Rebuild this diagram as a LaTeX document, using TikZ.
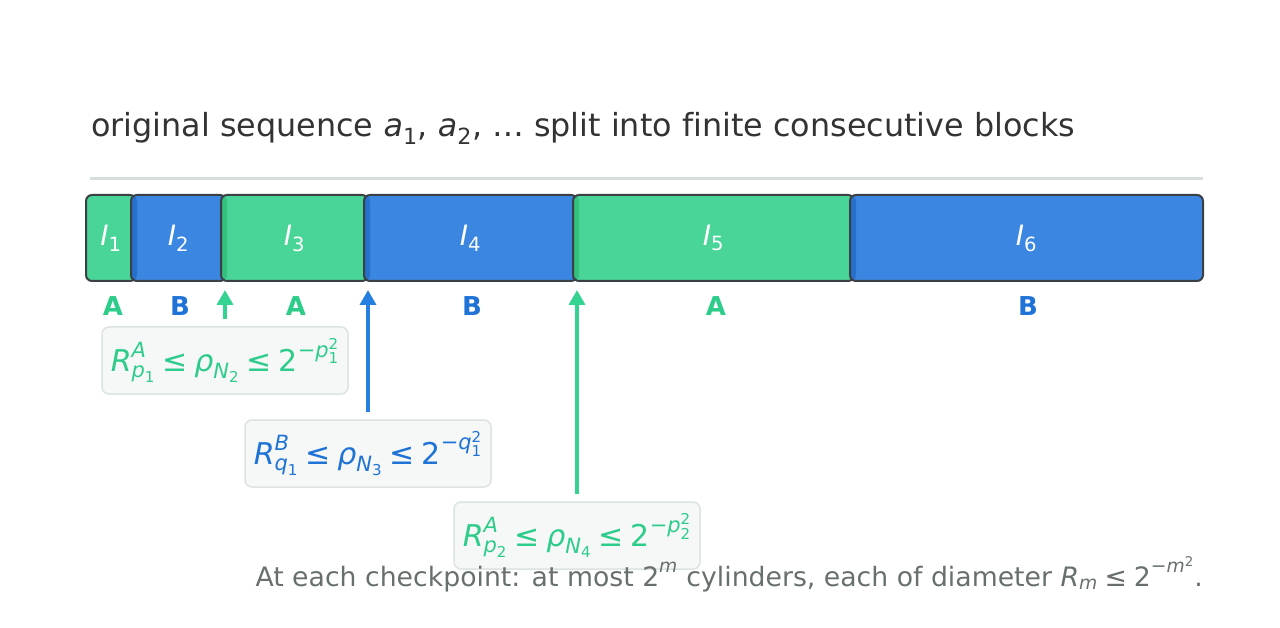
\documentclass[tikz,border=0pt]{standalone}
\usepackage{amsmath}
\usepackage{fontspec}
\setmainfont[Ligatures=NoCommon]{DejaVu Sans}
\usetikzlibrary{arrows.meta}
\newcommand\vi[1]{\text{\itshape #1}}
\newcommand\vr[1]{\text{#1}}
\definecolor{gfill}{HTML}{48D597}
\definecolor{gdark}{HTML}{34C07F}
\definecolor{bfill}{HTML}{3A86E0}
\definecolor{bdark}{HTML}{2770CC}
\definecolor{bord}{HTML}{3B4045}
\definecolor{gtxt}{HTML}{2ECC8A}
\definecolor{btxt}{HTML}{1F73D6}
\definecolor{garr}{HTML}{34D391}
\definecolor{barr}{HTML}{2680E0}
\definecolor{boxfill}{HTML}{F5F8F7}
\definecolor{boxbord}{HTML}{DCE3E1}
\definecolor{titlec}{HTML}{333333}
\definecolor{notec}{HTML}{67706E}
\definecolor{sepc}{HTML}{D5DEDD}
\tikzset{
  blk/.style={draw=bord, line width=2pt, rounded corners=6pt, minimum height=86pt, inner sep=0pt, text=white, font=\fontsize{28}{32}\selectfont},
  gblk/.style={blk, fill=gfill},
  bblk/.style={blk, fill=bfill},
  lstrip/.style={path picture={\fill[#1] (path picture bounding box.north west) rectangle ([xshift=6pt]path picture bounding box.south west);}},
  lab/.style={font=\fontsize{26}{30}\selectfont\bfseries},
  fbox/.style={draw=boxbord, fill=boxfill, line width=1.5pt, rounded corners=7pt, minimum width=246pt, minimum height=67pt, inner sep=0pt, font=\fontsize{30}{34}\selectfont},
  arr/.style={line width=3.5pt, -{Triangle[length=15pt,width=16pt]}, shorten >=8pt}
}
\begin{document}
\begin{tikzpicture}[x=1pt,y=1pt]
\useasboundingbox (0,0) rectangle (1280,-628);
% title
\node[anchor=base west, inner sep=0pt, text=titlec, font=\fontsize{31.8}{36}\selectfont] (title) at (91,-137)
  {original sequence $\vi{a}_{\vr{1}}\vr{, }\vi{a}_{\vr{2}}\vr{, … split into finite consecutive blocks}$};
\coordinate (sepL) at (90,-179);
\coordinate (sepR) at (1203,-179);
\draw[sepc, line width=3pt] (sepL) -- (sepR);
% blocks
\node[gblk, minimum width=50pt] (I1) at (111,-238) {\raisebox{2pt}{$\vi{I}_{\vr{1}}$}};
\node[bblk, lstrip=bdark, minimum width=95pt] (I2) at (178.5,-238) {\raisebox{2pt}{$\vi{I}_{\vr{2}}$}};
\node[gblk, lstrip=gdark, minimum width=147pt] (I3) at (294.5,-238) {\raisebox{2pt}{$\vi{I}_{\vr{3}}$}};
\node[bblk, lstrip=bdark, minimum width=213pt] (I4) at (470.5,-238) {\raisebox{2pt}{$\vi{I}_{\vr{4}}$}};
\node[gblk, lstrip=gdark, minimum width=281pt] (I5) at (713.5,-238) {\raisebox{2pt}{$\vi{I}_{\vr{5}}$}};
\node[bblk, lstrip=bdark, minimum width=353pt] (I6) at (1026.5,-238) {\raisebox{2pt}{$\vi{I}_{\vr{6}}$}};
% labels
\node[lab, text=gtxt] (L1) at (113,-306) {A};
\node[lab, text=btxt] (L2) at (180,-306) {B};
\node[lab, text=gtxt] (L3) at (296,-306) {A};
\node[lab, text=btxt] (L4) at (472,-306) {B};
\node[lab, text=gtxt] (L5) at (716,-306) {A};
\node[lab, text=btxt] (L6) at (1028,-306) {B};
% formula boxes
\node[fbox, text=gtxt] (F1) at (225,-360.5)
  {$\vi{R}^{\vi{A}}_{\vi{p}_{\vr{1}}} \mathrel{\vr{≤}} \vi{ρ}_{\vi{N}_{\vr{2}}} \mathrel{\vr{≤}} \vr{2}^{\vr{−}\vi{p}_{\vr{1}}^{\vr{2}}}$};
\node[fbox, text=btxt] (F2) at (368,-453.5)
  {$\vi{R}^{\vi{B}}_{\vi{q}_{\vr{1}}} \mathrel{\vr{≤}} \vi{ρ}_{\vi{N}_{\vr{3}}} \mathrel{\vr{≤}} \vr{2}^{\vr{−}\vi{q}_{\vr{1}}^{\vr{2}}}$};
\node[fbox, text=gtxt] (F3) at (577,-535.5)
  {$\vi{R}^{\vi{A}}_{\vi{p}_{\vr{2}}} \mathrel{\vr{≤}} \vi{ρ}_{\vi{N}_{\vr{4}}} \mathrel{\vr{≤}} \vr{2}^{\vr{−}\vi{p}_{\vr{2}}^{\vr{2}}}$};
% arrows
\draw[arr, garr, shorten <=7pt] (F1.north) -- (F1.north |- I3.south);
\draw[arr, barr, shorten <=7pt] (F2.north) -- (F2.north |- I4.south);
\draw[arr, garr, shorten <=7pt] (F3.north) -- (F3.north |- I5.south);
% note
\node[anchor=base east, inner sep=0pt, text=notec, font=\fontsize{26.7}{30}\selectfont] (note) at (1203,-586)
  {At each checkpoint: at most $\vr{2}^{\vi{m}}$ cylinders, each of diameter $\vi{R}_{\vi{m}} \mathrel{\vr{≤}} \vr{2}^{\vr{−}\vi{m}^{\vr{2}}}$.};
\end{tikzpicture}
\end{document}
